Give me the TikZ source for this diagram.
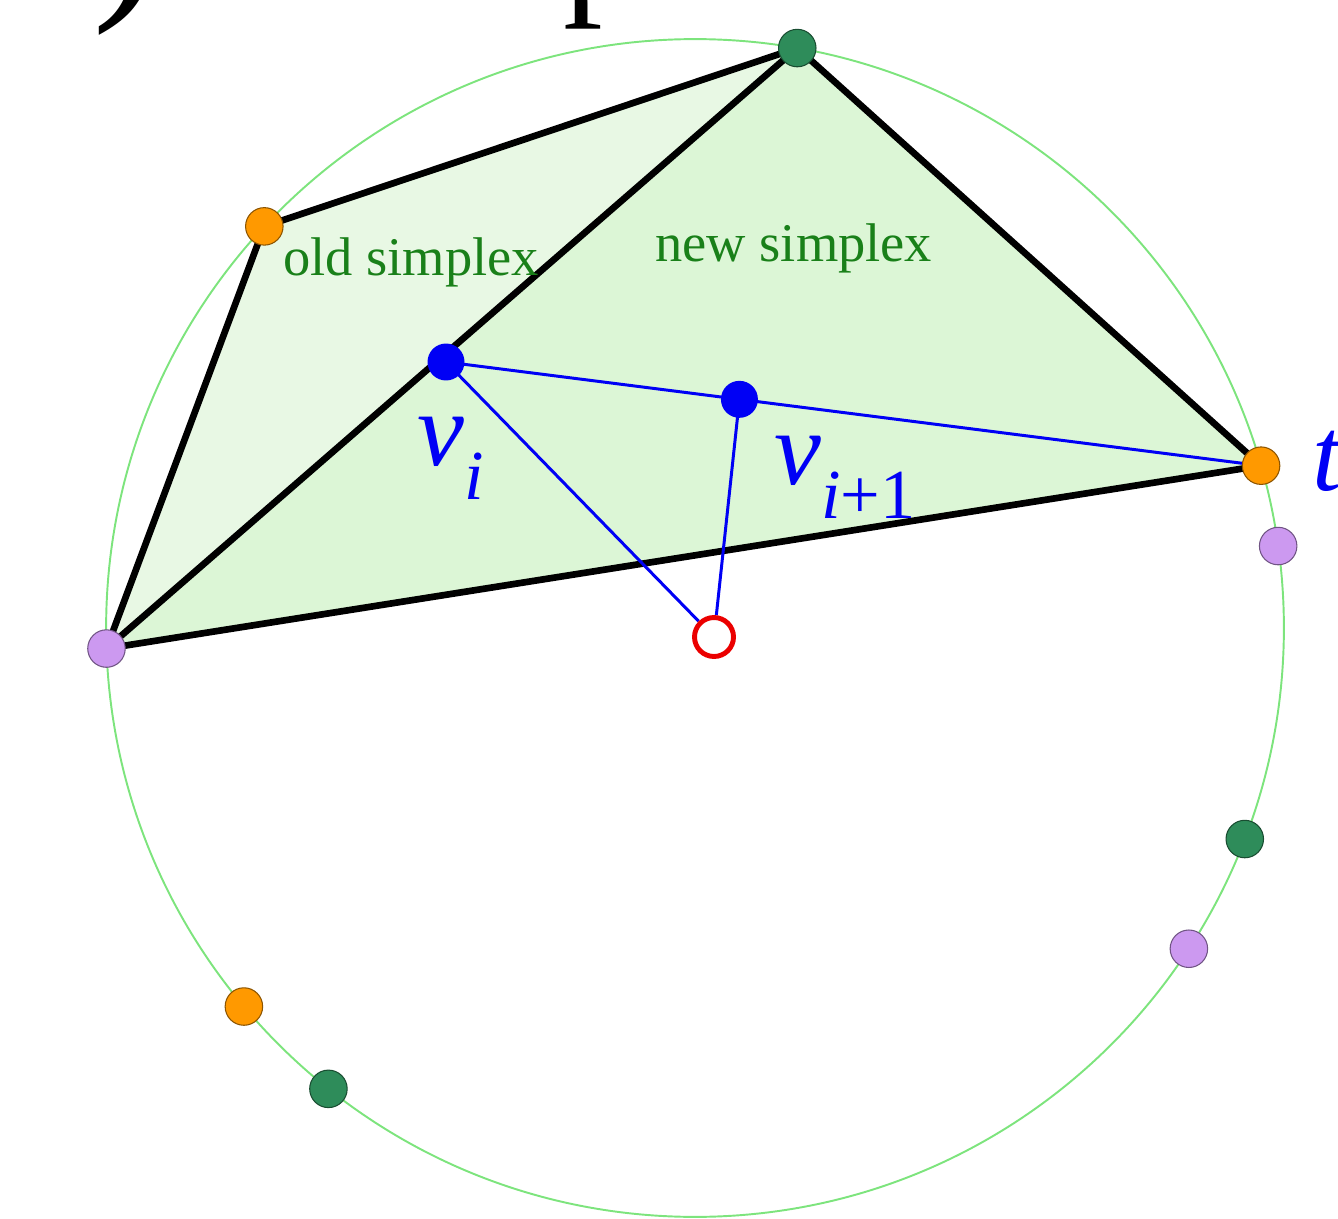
\documentclass[tikz,border=0pt]{standalone}
\usepackage{fontspec}
\setmainfont{Liberation Serif}
\usetikzlibrary{calc,backgrounds}
\definecolor{rim}{RGB}{125,228,125}
\definecolor{apricot}{RGB}{255,153,0}
\definecolor{pine}{RGB}{46,140,90}
\definecolor{lilac}{RGB}{204,153,240}
\definecolor{pureblue}{RGB}{0,0,245}
\definecolor{signal}{RGB}{235,0,0}
\definecolor{leafink}{RGB}{25,128,25}
\definecolor{oldfill}{RGB}{232,248,228}
\definecolor{newfill}{RGB}{220,246,214}
\tikzset{
  site/.style={circle,draw=#1!55!black,fill=#1,line width=0.6pt,minimum size=7.5mm,inner sep=0pt},
  site/.default=apricot,
  iterate/.style={circle,fill=pureblue,minimum size=7.4mm,inner sep=0pt},
  target/.style={circle,draw=signal,line width=2.8pt,fill=white,minimum size=7.8mm,inner sep=0pt},
  hull/.style={line width=3.8pt,line join=round,line cap=round},
  walk/.style={draw=pureblue,line width=1.7pt},
  tag/.style={font=\fontsize{31}{31}\selectfont,text=leafink,inner sep=0pt},
  vlab/.style={font=\fontsize{60}{60}\selectfont\itshape,text=pureblue,inner sep=0pt},
  cut/.style={font=\fontsize{#1}{#1}\selectfont,inner sep=0pt},
  cut/.default=90,
}
\newcommand{\lowsub}[1]{\raisebox{-7mm}{\fontsize{40}{40}\selectfont #1}}

\begin{document}
\begin{tikzpicture}[x=0.02cm,y=-0.02cm]
  \useasboundingbox (0,0) rectangle (1338,1219);
  \clip (0,0) rectangle (1338,1219);
  \coordinate (O) at (695,628);
  % points on the circle
  \foreach \a/\c [count=\i] in {137/apricot,80/pine,16/apricot,182/lilac,8/lilac,
      -21/pine,-33/lilac,220/apricot,231.5/pine}
    \node[site=\c] (s\i) at ($(O)+(\a:11.78cm)$) {};
  \node[iterate] (vi) at (446,362) {};
  \node[iterate] (vj) at ($(vi)!0.36!(s3)$) {};
  \node[target] (goal) at (714,637) {};
  \begin{scope}[on background layer]
    \fill[oldfill] (s4.center) -- (s1.center) -- (s2.center) -- cycle;
    \fill[newfill] (s4.center) -- (s2.center) -- (s3.center) -- cycle;
    \draw[rim,line width=1.1pt] (O) circle (11.78cm);
    \draw[hull] (s4.center) -- (s1.center) -- (s2.center) -- (s3.center) -- cycle;
    \draw[hull] (s4.center) -- (s2.center);
    \draw[walk] (vi.center) -- (vj.center) -- (s3.center);
    \draw[walk] (vi.center) -- (goal) -- (vj.center);
  \end{scope}
  \node[tag,anchor=base west] (old) at (283,276) {old simplex};
  \node[tag,anchor=base west] (new) at (655,262) {new simplex};
  \node[vlab,anchor=base west] (lvi) at (417,465) {v\lowsub{i}};
  \node[vlab,anchor=base west] (lvj) at (774,484) {v\lowsub{i\upshape+1}};
  \node[vlab,anchor=base west] (lt) at (1312,490) {t};
  % title cut off at the top
  \node[cut=120,anchor=south west] (paren) at (92,36) {)};
  \node[cut,anchor=south west] (pe) at (563,30) {p};
\end{tikzpicture}
\end{document}
